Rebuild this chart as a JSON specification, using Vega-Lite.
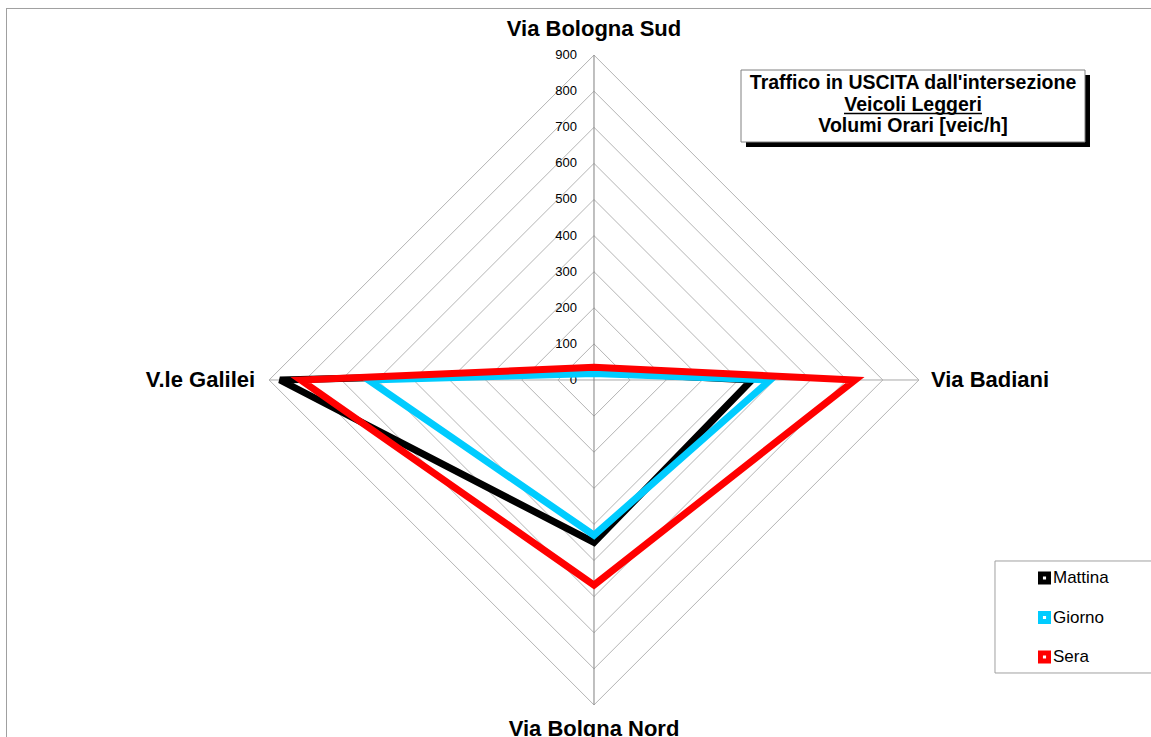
{
  "$schema": "https://vega.github.io/schema/vega-lite/v6.json",
  "width": 1145,
  "height": 729,
  "autosize": {"type": "none"},
  "padding": {"left": 6, "top": 8, "right": 0, "bottom": 0},
  "background": "white",
  "config": {"view": {"stroke": null}, "font": "Liberation Sans"},
  "datasets": {
    "volumi": [
      {"fascia": "Mattina", "asse": "Via Bologna Sud", "veicoli": 22},
      {"fascia": "Mattina", "asse": "Via Badiani", "veicoli": 437},
      {"fascia": "Mattina", "asse": "Via Bolgna Nord", "veicoli": 450},
      {"fascia": "Mattina", "asse": "V.le Galilei", "veicoli": 870},
      {"fascia": "Giorno", "asse": "Via Bologna Sud", "veicoli": 18},
      {"fascia": "Giorno", "asse": "Via Badiani", "veicoli": 488},
      {"fascia": "Giorno", "asse": "Via Bolgna Nord", "veicoli": 430},
      {"fascia": "Giorno", "asse": "V.le Galilei", "veicoli": 625},
      {"fascia": "Sera", "asse": "Via Bologna Sud", "veicoli": 35},
      {"fascia": "Sera", "asse": "Via Badiani", "veicoli": 723},
      {"fascia": "Sera", "asse": "Via Bolgna Nord", "veicoli": 568},
      {"fascia": "Sera", "asse": "V.le Galilei", "veicoli": 812}
    ],
    "livelli": [
      {"livello": 0}, {"livello": 100}, {"livello": 200}, {"livello": 300}, {"livello": 400},
      {"livello": 500}, {"livello": 600}, {"livello": 700}, {"livello": 800}, {"livello": 900}
    ],
    "vuoto": [{}]
  },
  "layer": [
    {
      "data": {"name": "vuoto"},
      "mark": {"type": "rule", "color": "#a0a0a0", "strokeWidth": 1},
      "encoding": {
        "x": {"datum": -1627.4, "type": "quantitative", "scale": {"domain": [-1628.81, 1542.94], "nice": false, "zero": false}, "axis": null}
      }
    },
    {
      "data": {"name": "vuoto"},
      "mark": {"type": "rule", "color": "#a0a0a0", "strokeWidth": 1},
      "encoding": {
        "y": {"datum": 1029.1, "type": "quantitative", "scale": {"domain": [-988.92, 1030.47], "nice": false, "zero": false}, "axis": null}
      }
    },
    {
      "data": {"name": "livelli"},
      "transform": [{"filter": "datum.livello > 0"}, {"calculate": "-datum.livello", "as": "neg"}, {"calculate": "0", "as": "zero"}],
      "mark": {"type": "rule", "color": "#b4b4b4", "strokeWidth": 1},
      "encoding": {
        "x": {"field": "zero", "type": "quantitative", "scale": {"domain": [-1628.81, 1542.94], "nice": false, "zero": false}, "axis": null},
        "y": {"field": "livello", "type": "quantitative", "scale": {"domain": [-988.92, 1030.47], "nice": false, "zero": false}, "axis": null},
        "x2": {"field": "livello"},
        "y2": {"field": "zero"}
      }
    },
    {
      "data": {"name": "livelli"},
      "transform": [{"filter": "datum.livello > 0"}, {"calculate": "-datum.livello", "as": "neg"}, {"calculate": "0", "as": "zero"}],
      "mark": {"type": "rule", "color": "#b4b4b4", "strokeWidth": 1},
      "encoding": {
        "x": {"field": "livello", "type": "quantitative", "scale": {"domain": [-1628.81, 1542.94], "nice": false, "zero": false}, "axis": null},
        "y": {"field": "zero", "type": "quantitative", "scale": {"domain": [-988.92, 1030.47], "nice": false, "zero": false}, "axis": null},
        "x2": {"field": "zero"},
        "y2": {"field": "neg"}
      }
    },
    {
      "data": {"name": "livelli"},
      "transform": [{"filter": "datum.livello > 0"}, {"calculate": "-datum.livello", "as": "neg"}, {"calculate": "0", "as": "zero"}],
      "mark": {"type": "rule", "color": "#b4b4b4", "strokeWidth": 1},
      "encoding": {
        "x": {"field": "zero", "type": "quantitative", "scale": {"domain": [-1628.81, 1542.94], "nice": false, "zero": false}, "axis": null},
        "y": {"field": "neg", "type": "quantitative", "scale": {"domain": [-988.92, 1030.47], "nice": false, "zero": false}, "axis": null},
        "x2": {"field": "neg"},
        "y2": {"field": "zero"}
      }
    },
    {
      "data": {"name": "livelli"},
      "transform": [{"filter": "datum.livello > 0"}, {"calculate": "-datum.livello", "as": "neg"}, {"calculate": "0", "as": "zero"}],
      "mark": {"type": "rule", "color": "#b4b4b4", "strokeWidth": 1},
      "encoding": {
        "x": {"field": "neg", "type": "quantitative", "scale": {"domain": [-1628.81, 1542.94], "nice": false, "zero": false}, "axis": null},
        "y": {"field": "zero", "type": "quantitative", "scale": {"domain": [-988.92, 1030.47], "nice": false, "zero": false}, "axis": null},
        "x2": {"field": "zero"},
        "y2": {"field": "livello"}
      }
    },
    {
      "data": {"name": "livelli"},
      "transform": [{"filter": "datum.livello === 900"}, {"calculate": "-datum.livello", "as": "neg"}, {"calculate": "0", "as": "zero"}],
      "mark": {"type": "rule", "color": "#a8a8a8", "strokeWidth": 1},
      "encoding": {
        "x": {"field": "neg", "type": "quantitative", "scale": {"domain": [-1628.81, 1542.94], "nice": false, "zero": false}, "axis": null},
        "x2": {"field": "livello"},
        "y": {"field": "zero", "type": "quantitative", "scale": {"domain": [-988.92, 1030.47], "nice": false, "zero": false}, "axis": null}
      }
    },
    {
      "data": {"name": "livelli"},
      "transform": [{"filter": "datum.livello === 900"}, {"calculate": "-datum.livello", "as": "neg"}, {"calculate": "0", "as": "zero"}],
      "mark": {"type": "rule", "color": "#808080", "strokeWidth": 1},
      "encoding": {
        "x": {"field": "zero", "type": "quantitative", "scale": {"domain": [-1628.81, 1542.94], "nice": false, "zero": false}, "axis": null},
        "y": {"field": "neg", "type": "quantitative", "scale": {"domain": [-988.92, 1030.47], "nice": false, "zero": false}, "axis": null},
        "y2": {"field": "livello"}
      }
    },
    {
      "data": {"name": "livelli"},
      "mark": {"type": "text", "align": "right", "baseline": "middle", "dx": -17, "fontSize": 13, "color": "#000000", "font": "Liberation Sans"},
      "encoding": {
        "x": {"datum": 0, "type": "quantitative", "scale": {"domain": [-1628.81, 1542.94], "nice": false, "zero": false}, "axis": null},
        "y": {"field": "livello", "type": "quantitative", "scale": {"domain": [-988.92, 1030.47], "nice": false, "zero": false}, "axis": null},
        "text": {"field": "livello", "type": "quantitative", "format": "d"}
      }
    },
    {
      "data": {"name": "vuoto"},
      "mark": {"type": "rect", "fill": "#000000", "width": 344, "height": 72},
      "encoding": {
        "x": {"datum": 897.5, "type": "quantitative", "scale": {"domain": [-1628.81, 1542.94], "nice": false, "zero": false}, "axis": null},
        "y": {"datum": 745.2, "type": "quantitative", "scale": {"domain": [-988.92, 1030.47], "nice": false, "zero": false}, "axis": null}
      }
    },
    {
      "data": {"name": "vuoto"},
      "mark": {"type": "rect", "fill": "#ffffff", "stroke": "#808080", "strokeWidth": 1, "width": 344, "height": 72},
      "encoding": {
        "x": {"datum": 883.7, "type": "quantitative", "scale": {"domain": [-1628.81, 1542.94], "nice": false, "zero": false}, "axis": null},
        "y": {"datum": 759.0, "type": "quantitative", "scale": {"domain": [-988.92, 1030.47], "nice": false, "zero": false}, "axis": null}
      }
    },
    {
      "data": {"name": "vuoto"},
      "mark": {"type": "text", "text": ["Traffico in USCITA dall'intersezione", "Veicoli Leggeri", "Volumi Orari [veic/h]"], "align": "center", "baseline": "middle", "lineHeight": 21.5, "fontSize": 19.5, "fontWeight": "bold", "color": "#000000", "font": "Liberation Sans"},
      "encoding": {
        "x": {"datum": 883.7, "type": "quantitative", "scale": {"domain": [-1628.81, 1542.94], "nice": false, "zero": false}, "axis": null},
        "y": {"datum": 822.7, "type": "quantitative", "scale": {"domain": [-988.92, 1030.47], "nice": false, "zero": false}, "axis": null}
      }
    },
    {
      "data": {"name": "vuoto"},
      "mark": {"type": "rect", "fill": "#000000", "width": 138, "height": 1.5},
      "encoding": {
        "x": {"datum": 883.7, "type": "quantitative", "scale": {"domain": [-1628.81, 1542.94], "nice": false, "zero": false}, "axis": null},
        "y": {"datum": 738.0, "type": "quantitative", "scale": {"domain": [-988.92, 1030.47], "nice": false, "zero": false}, "axis": null}
      }
    },
    {
      "data": {"name": "vuoto"},
      "mark": {"type": "rect", "fill": "#ffffff", "stroke": "#a0a0a0", "strokeWidth": 1, "width": 165, "height": 112},
      "encoding": {
        "x": {"datum": 1339.3, "type": "quantitative", "scale": {"domain": [-1628.81, 1542.94], "nice": false, "zero": false}, "axis": null},
        "y": {"datum": -656.5, "type": "quantitative", "scale": {"domain": [-988.92, 1030.47], "nice": false, "zero": false}, "axis": null}
      }
    },
    {
      "data": {"name": "volumi"},
      "transform": [
        {"calculate": "datum.asse === 'Via Badiani' ? datum.veicoli : (datum.asse === 'V.le Galilei' ? -datum.veicoli : 0)", "as": "px"},
        {"calculate": "datum.asse === 'Via Bologna Sud' ? datum.veicoli : (datum.asse === 'Via Bolgna Nord' ? -datum.veicoli : 0)", "as": "py"}
      ],
      "mark": {"type": "line", "interpolate": "linear-closed", "strokeWidth": 7, "strokeJoin": "miter"},
      "encoding": {
        "x": {"field": "px", "type": "quantitative", "scale": {"domain": [-1628.81, 1542.94], "nice": false, "zero": false}, "axis": null},
        "y": {"field": "py", "type": "quantitative", "scale": {"domain": [-988.92, 1030.47], "nice": false, "zero": false}, "axis": null},
        "order": {"value": null},
        "color": {
          "field": "fascia",
          "type": "nominal",
          "scale": {"domain": ["Mattina", "Giorno", "Sera"], "range": ["#000000", "#00CCFF", "#FF0000"]},
          "legend": {
            "orient": "none",
            "legendX": 1030,
            "legendY": 561.5,
            "title": null,
            "padding": 0,
            "symbolType": "M-1,-1H1V1H-1Z M-0.24,-0.24V0.24H0.24V-0.24Z",
            "symbolSize": 169,
            "symbolStrokeWidth": 0,
            "labelFontSize": 17,
            "labelFont": "Liberation Sans",
            "labelColor": "#000000",
            "labelOffset": 0,
            "rowPadding": 21.5,
            "encode": {"symbols": {"update": {"fill": {"scale": "color", "field": "value"}, "fillOpacity": {"value": 1}, "opacity": {"value": 1}}}}
          }
        }
      }
    },
    {
      "data": {"name": "vuoto"},
      "mark": {"type": "text", "text": "Via Bologna Sud", "align": "center", "baseline": "middle", "dy": -26, "fontSize": 22, "fontWeight": "bold", "color": "#000000", "font": "Liberation Sans"},
      "encoding": {
        "x": {"datum": 0, "type": "quantitative", "scale": {"domain": [-1628.81, 1542.94], "nice": false, "zero": false}, "axis": null},
        "y": {"datum": 900, "type": "quantitative", "scale": {"domain": [-988.92, 1030.47], "nice": false, "zero": false}, "axis": null}
      }
    },
    {
      "data": {"name": "vuoto"},
      "mark": {"type": "text", "text": "Via Badiani", "align": "left", "baseline": "middle", "dx": 12, "fontSize": 22, "fontWeight": "bold", "color": "#000000", "font": "Liberation Sans"},
      "encoding": {
        "x": {"datum": 900, "type": "quantitative", "scale": {"domain": [-1628.81, 1542.94], "nice": false, "zero": false}, "axis": null},
        "y": {"datum": 0, "type": "quantitative", "scale": {"domain": [-988.92, 1030.47], "nice": false, "zero": false}, "axis": null}
      }
    },
    {
      "data": {"name": "vuoto"},
      "mark": {"type": "text", "text": "Via Bolgna Nord", "align": "center", "baseline": "middle", "dy": 24, "fontSize": 22, "fontWeight": "bold", "color": "#000000", "font": "Liberation Sans"},
      "encoding": {
        "x": {"datum": 0, "type": "quantitative", "scale": {"domain": [-1628.81, 1542.94], "nice": false, "zero": false}, "axis": null},
        "y": {"datum": -900, "type": "quantitative", "scale": {"domain": [-988.92, 1030.47], "nice": false, "zero": false}, "axis": null}
      }
    },
    {
      "data": {"name": "vuoto"},
      "mark": {"type": "text", "text": "V.le Galilei", "align": "right", "baseline": "middle", "dx": -14, "fontSize": 22, "fontWeight": "bold", "color": "#000000", "font": "Liberation Sans"},
      "encoding": {
        "x": {"datum": -900, "type": "quantitative", "scale": {"domain": [-1628.81, 1542.94], "nice": false, "zero": false}, "axis": null},
        "y": {"datum": 0, "type": "quantitative", "scale": {"domain": [-988.92, 1030.47], "nice": false, "zero": false}, "axis": null}
      }
    }
  ]
}
